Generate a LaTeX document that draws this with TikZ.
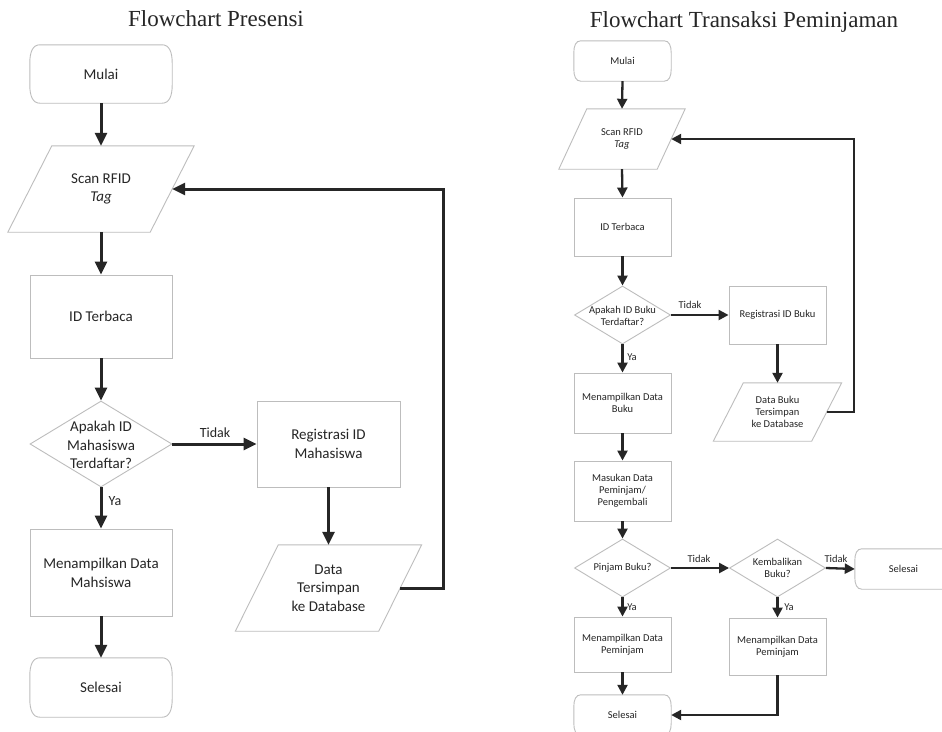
\documentclass[tikz,border=0pt]{standalone}
\usepackage{fontspec}
\setmainfont{Carlito}
\newfontfamily\titlefont{Liberation Serif}
\usetikzlibrary{arrows.meta,shapes.geometric}
\definecolor{shapegray}{HTML}{BDBDBD}
\definecolor{textgray}{HTML}{262626}
\newcommand\drawpara[2]{\draw[shapeline] ([xshift=#2]#1.north west) -- ([xshift=#2]#1.north east) -- ([xshift=-#2]#1.south east) -- ([xshift=-#2]#1.south west) -- cycle;}
\newcommand\drawterm[3]{\draw[shapeline]
  ([xshift=#2]#1.north west) -- ([xshift=-#2]#1.north east)
  .. controls ([xshift=-0.3*#2]#1.north east) and ([yshift=-0.4*#3]#1.north east) .. ([yshift=-#3]#1.north east)
  -- ([yshift=#3]#1.south east)
  .. controls ([yshift=0.4*#3]#1.south east) and ([xshift=-0.3*#2]#1.south east) .. ([xshift=-#2]#1.south east)
  -- ([xshift=#2]#1.south west)
  .. controls ([xshift=0.3*#2]#1.south west) and ([yshift=0.4*#3]#1.south west) .. ([yshift=#3]#1.south west)
  -- ([yshift=-#3]#1.north west)
  .. controls ([yshift=-0.4*#3]#1.north west) and ([xshift=0.3*#2]#1.north west) .. ([xshift=#2]#1.north west)
  -- cycle;}
\tikzset{
  shapeline/.style={draw=shapegray, line width=0.9pt},
  base/.style={text=textgray, align=center, inner sep=0pt},
  fL/.style={font=\fontsize{15}{18.7}\selectfont},
  fR/.style={font=\fontsize{10.5}{12}\selectfont},
  boxL/.style={base, fL, shapeline, rectangle, minimum width=142pt},
  termL/.style={base, fL, rectangle, minimum width=142pt, minimum height=58pt},
  ioL/.style={base, fL, rectangle, minimum width=142pt, minimum height=86pt},
  diaL/.style={shapeline, diamond, inner sep=0pt, minimum width=142pt, minimum height=86pt},
  txtL/.style={base, fL},
  boxR/.style={base, fR, shapeline, rectangle, minimum width=97pt},
  termR/.style={base, fR, rectangle, minimum width=97pt, minimum height=40pt},
  ioR/.style={base, fR, rectangle, minimum width=98pt},
  diaR/.style={shapeline, diamond, inner sep=0pt, minimum width=96pt, minimum height=58pt},
  txtR/.style={base, fR},
  lblL/.style={base, font=\fontsize{14}{16}\selectfont},
  lblR/.style={base, font=\fontsize{10.5}{12}\selectfont},
  arrL/.style={draw=textgray, line width=3pt, -{Triangle[width=12pt,length=13pt]}},
  arrR/.style={draw=textgray, line width=2.3pt, -{Triangle[width=10pt,length=10pt]}},
  titlestyle/.style={text=textgray, inner sep=0pt, font=\titlefont\fontsize{23}{27}\selectfont}
}
\begin{document}
\begin{tikzpicture}[x=1pt,y=-1pt]
\useasboundingbox (0,0) rectangle (942,731);
\clip (0,0) rectangle (942,731);
\fill[white] (0,0) rectangle (942,731);

% ---------------- Left flowchart ----------------
\node[titlestyle, anchor=base] (titleL) at (216,26) {Flowchart Presensi};

\node[termL] (mulaiL) at (101,74) {Mulai};
\drawterm{mulaiL}{10pt}{18pt}
\node[ioL] (scanL) at (101,189) {Scan RFID\\\textit{Tag}};
\drawpara{scanL}{22pt}
\node[boxL, minimum height=83pt] (idL) at (101,316.5) {ID Terbaca};
\node[diaL] (decL) at (101,444) {};
\node[txtL] (decLt) at (101,445) {Apakah ID\\Mahasiswa\\Terdaftar?};
\node[boxL, minimum width=143pt, minimum height=86pt] (regL) at (328.5,444) {Registrasi ID\\Mahasiswa};
\node[ioL, minimum width=143pt] (dataL) at (328.5,588) {Data\\Tersimpan\\ke Database};
\drawpara{dataL}{21.5pt}
\node[boxL, minimum height=87pt] (showL) at (101,572.5) {Menampilkan Data\\Mahsiswa};
\node[termL, minimum height=59pt] (selL) at (101,687.5) {Selesai};
\drawterm{selL}{10pt}{18pt}

\draw[arrL] (mulaiL.south) -- (scanL.north);
\draw[arrL] (scanL.south) -- (idL.north);
\draw[arrL] (idL.south) -- (decL.north);
\draw[arrL] (decL.east) -- (regL.west);
\draw[arrL] (decL.south) -- (showL.north);
\draw[arrL] (regL.south) -- (dataL.north);
\draw[arrL] (showL.south) -- (selL.north);
\coordinate (loopL) at (443,588);
\draw[arrL] (dataL.east) -- (loopL) |- (scanL.east);

\node[lblL] (tidakL) at (215,433) {Tidak};
\node[lblL] (yaL) at (115,501) {Ya};

% ---------------- Right flowchart ----------------
\node[titlestyle, anchor=base] (titleR) at (744,27) {Flowchart Transaksi Peminjaman};

\node[termR] (mulaiR) at (622.5,61) {Mulai};
\drawterm{mulaiR}{7pt}{12pt}
\node[ioR, minimum height=60pt] (scanR) at (622,139) {Scan RFID\\\textit{Tag}};
\drawpara{scanR}{14pt}
\node[boxR, minimum height=58pt] (idR) at (622.5,227) {ID Terbaca};
\node[diaR] (decR) at (622.5,315) {};
\node[txtR] (decRt) at (622.5,316) {Apakah ID Buku\\Terdaftar?};
\node[boxR, minimum height=58pt] (regR) at (777.5,315) {Registrasi ID Buku};
\node[ioR, minimum height=58pt] (dataR) at (777.5,412) {Data Buku\\Tersimpan\\ke Database};
\drawpara{dataR}{15pt}
\node[boxR, minimum height=60pt] (showR1) at (622.5,403) {Menampilkan Data\\Buku};
\node[boxR, minimum height=60pt] (masR) at (622.5,491) {Masukan Data\\Peminjam/\\Pengembali};
\node[diaR] (pinR) at (622.5,568) {};
\node[txtR] (pinRt) at (622.5,568) {Pinjam Buku?};
\node[diaR] (kemR) at (777.5,568) {};
\node[txtR] (kemRt) at (777.5,568) {Kembalikan\\Buku?};
\node[termR] (selR2) at (903.5,569) {Selesai};
\drawterm{selR2}{7pt}{12pt}
\node[boxR, minimum height=55pt] (showR2) at (622.5,644.5) {Menampilkan Data\\Peminjam};
\node[boxR, minimum height=57pt] (showR3) at (777.5,646.5) {Menampilkan Data\\Peminjam};
\node[termR] (selR1) at (622.5,715) {Selesai};
\drawterm{selR1}{7pt}{12pt}

\draw[arrR] (mulaiR.south) -- (scanR.north);
\draw[arrR] (scanR.south) -- (idR.north);
\draw[arrR] (idR.south) -- (decR.north);
\draw[arrR] (decR.east) -- (regR.west);
\draw[arrR] (decR.south) -- (showR1.north);
\draw[arrR] (regR.south) -- (dataR.north);
\draw[arrR] (showR1.south) -- (masR.north);
\draw[arrR] (masR.south) -- (pinR.north);
\draw[arrR] (pinR.east) -- (kemR.west);
\draw[arrR] (kemR.east) -- (selR2.west);
\draw[arrR] (pinR.south) -- (showR2.north);
\draw[arrR] (kemR.south) -- (showR3.north);
\draw[arrR] (showR2.south) -- (selR1.north);
\draw[arrR] (showR3.south) |- (selR1.east);
\coordinate (loopR) at (854,412);
\draw[arrR] (dataR.east) -- (loopR) |- (scanR.east);

\node[lblR] (tidakR1) at (690,305) {Tidak};
\node[lblR] (yaR1) at (632,357) {Ya};
\node[lblR] (tidakR2) at (699,559) {Tidak};
\node[lblR] (tidakR3) at (836,559) {Tidak};
\node[lblR] (yaR2) at (632,607) {Ya};
\node[lblR] (yaR3) at (789,607) {Ya};
\end{tikzpicture}
\end{document}
